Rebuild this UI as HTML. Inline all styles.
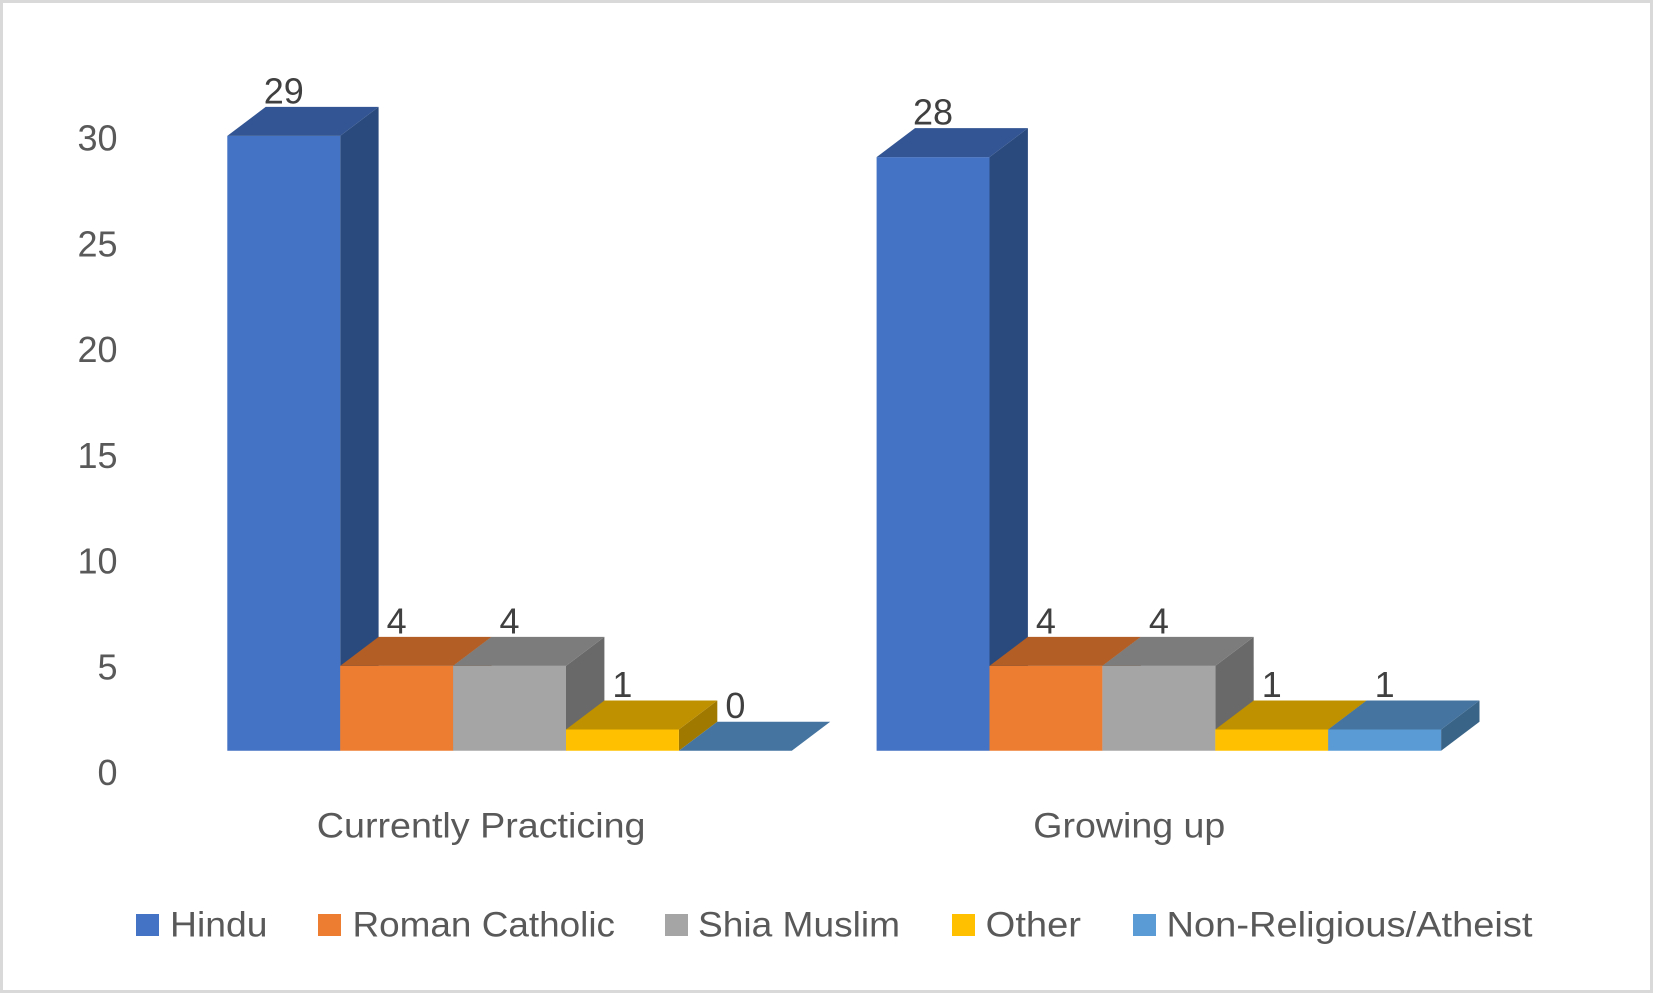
<!DOCTYPE html>
<html lang="en">
<head>
<meta charset="utf-8">
<title>Religion chart</title>
<style>
html,body{margin:0;padding:0;background:#fff;width:1653px;height:993px;overflow:hidden}
svg{display:block}
text{font-family:"Liberation Sans",sans-serif}
</style>
</head>
<body>
<svg id="chart" xmlns="http://www.w3.org/2000/svg" width="1653" height="993" viewBox="0 0 1653 993">
  <rect x="0" y="0" width="1653" height="993" fill="#d9d9d9"/>
  <rect x="3" y="3" width="1647" height="987" fill="#ffffff"/>
  <g id="y-axis"></g>
  <g id="bars"></g>
  <g id="labels"></g>
  <g id="x-axis"></g>
  <g id="legend"></g>
</svg>
<script>
const categories = ['Currently Practicing', 'Growing up'];
const seriesNames = ['Hindu', 'Roman Catholic', 'Shia Muslim', 'Other', 'Non-Religious/Atheist'];
const hinduValues = [29, 28];
const romanCatholicValues = [4, 4];
const shiaMuslimValues = [4, 4];
const otherValues = [1, 1];
const nonReligiousValues = [0, 1];
const yTickLabels = [0, 5, 10, 15, 20, 25, 30];

const allSeries = [hinduValues, romanCatholicValues, shiaMuslimValues, otherValues, nonReligiousValues];
const frontColors = ['#4472C4', '#ED7D31', '#A5A5A5', '#FFC000', '#5B9BD5'];
const topColors = ['#335593', '#B25E25', '#7C7C7C', '#BF9000', '#44749F'];
const sideColors = ['#2A4A7E', '#97501F', '#696969', '#A07900', '#3A6487'];

const NS = 'http://www.w3.org/2000/svg';
const BASE_Y = 750.7;
const UNIT = 21.2;
const GROUP_X0 = 227.3;
const GROUP_STEP = 649.3;
const BAR_W = 112.9;
const DX = 38.4;
const DY = 29;

function yScale(v) { return BASE_Y - UNIT * v; }
function xScale(groupIndex, seriesIndex) { return GROUP_X0 + GROUP_STEP * groupIndex + BAR_W * seriesIndex; }
function tickBaseline(v) { return 785 - 21.15 * v; }

function slug(s) { return s.toLowerCase().replace(/[^a-z0-9]+/g, '-'); }

function addPoly(parent, pts, fill, name) {
  const p = document.createElementNS(NS, 'polygon');
  p.setAttribute('points', pts.map(function (q) { return q[0].toFixed(2) + ',' + q[1].toFixed(2); }).join(' '));
  p.setAttribute('fill', fill);
  
  
  parent.appendChild(p);
  return p;
}

function addText(parent, str, x, y, opts, name) {
  const t = document.createElementNS(NS, 'text');
  t.setAttribute('x', x);
  t.setAttribute('y', y);
  t.setAttribute('font-size', opts.size);
  t.setAttribute('fill', opts.fill);
  if (opts.anchor) t.setAttribute('text-anchor', opts.anchor);
  if (opts.length) {
    t.setAttribute('textLength', opts.length);
    t.setAttribute('lengthAdjust', 'spacingAndGlyphs');
  }
  
  
  t.textContent = str;
  parent.appendChild(t);
  return t;
}

const yAxisG = document.getElementById('y-axis');
yTickLabels.forEach(function (v) {
  addText(yAxisG, String(v), 117.5, tickBaseline(v), { size: 36, fill: '#595959', anchor: 'end' }, 'y-tick-' + v);
});

const barsG = document.getElementById('bars');
const labelsG = document.getElementById('labels');
categories.forEach(function (cat, g) {
  allSeries.forEach(function (vals, s) {
    const v = vals[g];
    const x0 = xScale(g, s);
    const x1 = x0 + BAR_W;
    const yt = yScale(v);
    const group = document.createElementNS(NS, 'g');
    
    
    barsG.appendChild(group);
    if (v > 0) {
      addPoly(group, [[x1, yt], [x1 + DX, yt - DY], [x1 + DX, BASE_Y - DY], [x1, BASE_Y]], sideColors[s], 'bar-side');
      addPoly(group, [[x0, yt], [x1, yt], [x1, BASE_Y], [x0, BASE_Y]], frontColors[s], 'bar-front');
    }
    addPoly(group, [[x0, yt], [x0 + DX, yt - DY], [x1 + DX, yt - DY], [x1, yt]], topColors[s], 'bar-top');
    addText(labelsG, String(v), x0 + BAR_W / 2, yt - DY - 3.5, { size: 36, fill: '#404040', anchor: 'middle' }, 'data-label-' + slug(seriesNames[s]) + '-' + slug(cat));
  });
});

const xAxisG = document.getElementById('x-axis');
const categoryLabelBoxes = [[316.8, 328.7], [1033.3, 192]];
categories.forEach(function (cat, g) {
  addText(xAxisG, cat, categoryLabelBoxes[g][0], 837.3, { size: 35, fill: '#595959', length: categoryLabelBoxes[g][1] }, 'x-label-' + slug(cat));
});

const legendG = document.getElementById('legend');
const legendLayout = [
  [136, 170, 97.5],
  [318, 352.5, 262.5],
  [665, 698, 202],
  [952, 985.7, 95.3],
  [1133, 1166.5, 366]
];
seriesNames.forEach(function (name, s) {
  const entry = document.createElementNS(NS, 'g');
  
  
  legendG.appendChild(entry);
  const r = document.createElementNS(NS, 'rect');
  r.setAttribute('x', legendLayout[s][0]);
  r.setAttribute('y', 914);
  r.setAttribute('width', 23);
  r.setAttribute('height', 22);
  r.setAttribute('fill', frontColors[s]);
  
  
  entry.appendChild(r);
  addText(entry, name, legendLayout[s][1], 936.7, { size: 35, fill: '#595959', length: legendLayout[s][2] }, 'legend-label');
});
</script>
</body>
</html>
